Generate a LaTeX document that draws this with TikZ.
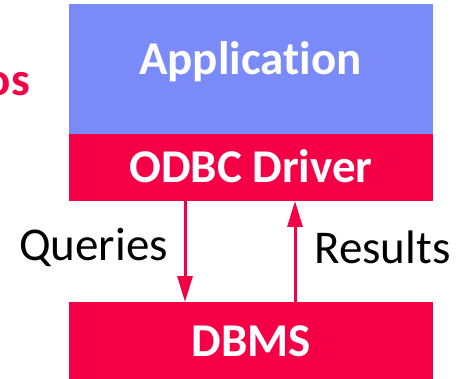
\documentclass[tikz,border=0pt]{standalone}
\usepackage{fontspec}
\setmainfont{Carlito}[Ligatures=CommonOff]
\usetikzlibrary{arrows.meta}
\definecolor{appblue}{RGB}{122,139,249}
\definecolor{odbcred}{RGB}{245,0,70}
\tikzset{
  boxlabel/.style={anchor=base, text=white, font=\fontsize{47}{47}\selectfont\bfseries, inner sep=0pt},
  plainlabel/.style={anchor=base, text=black, font=\fontsize{47}{47}\selectfont, inner sep=0pt},
  flow/.style={draw=odbcred, line width=3pt, -{Triangle[width=15pt,length=26pt]}}
}
\begin{document}
\begin{tikzpicture}[x=1pt,y=-1pt]
\useasboundingbox (0,0) rectangle (460,379);
\clip (0,0) rectangle (460,379);
\fill[appblue] (69,4) rectangle (433,134);
\fill[odbcred] (69,134) rectangle (433,201);
\fill[odbcred] (69,302) rectangle (433,385);
\node[boxlabel] (app) at (250.5,75) {Application};
\node[boxlabel] (odbc) at (251,183) {ODBC Driver};
\node[boxlabel] (dbms) at (251.5,356) {DBMS};
\node[plainlabel] (q) at (93.5,261) {Queries};
\node[plainlabel] (r) at (382.5,263) {Results};
\node[anchor=base east, inner sep=0pt, text=odbcred, font=\fontsize{47}{47}\selectfont\bfseries] (os) at (30,96) {os};
\coordinate (qs) at (185,201);
\coordinate (qe) at (185,302);
\coordinate (rs) at (295,302);
\coordinate (re) at (295,201);
\draw[flow] (qs) -- (qe);
\draw[flow] (rs) -- (re);
\end{tikzpicture}
\end{document}
